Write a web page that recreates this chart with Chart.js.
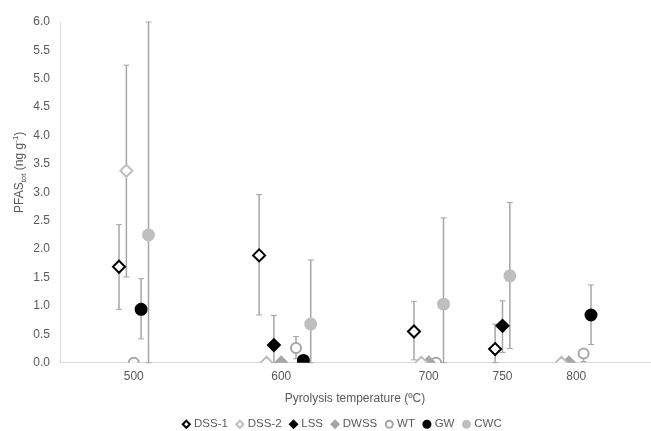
<!DOCTYPE html>
<html>
<head>
<meta charset="utf-8">
<script src="https://cdn.jsdelivr.net/npm/chart.js@4"></script>
<style>
  html, body { margin: 0; padding: 0; background: #fff; }
  #wrap { width: 651px; height: 431px; }
</style>
</head>
<body>
<div id="wrap"><canvas id="chart"></canvas></div>
<script>
const FONT = "'Liberation Sans', Arial, sans-serif";
const TXT = '#595959';

// x tick labels (temperatures, ºC)
const xTicks = [500, 600, 700, 750, 800];
const yTicks = [0, 0.5, 1, 1.5, 2, 2.5, 3, 3.5, 4, 4.5, 5, 5.5, 6];

// each series: x position (slightly offset around its temperature), mean, upper / lower error bound
const dss1X  = [490, 585, 690, 745];
const dss1Y  = [1.69, 1.89, 0.55, 0.24];
const dss1Hi = [2.43, 2.96, 1.08, 0.68];
const dss1Lo = [0.94, 0.84, 0.05, 0.0];

const dss2X  = [495, 590, 695, 790];
const dss2Y  = [3.38, 0, 0, 0];
const dss2Hi = [5.24, null, null, null];
const dss2Lo = [1.51, null, null, null];

const lssX  = [595, 750];
const lssY  = [0.31, 0.65];
const lssHi = [0.83, 1.09];
const lssLo = [0.0, 0.18];

const dwssX = [600, 700, 795];
const dwssY = [0, 0, 0];

const wtX  = [500, 610, 705, 805];
const wtY  = [0, 0.26, 0, 0.16];
const wtHi = [null, 0.46, null, 0.2];
const wtLo = [null, 0.07, null, 0.02];

const gwX  = [505, 615, 810];
const gwY  = [0.94, 0.04, 0.84];
const gwHi = [1.48, null, 1.37];
const gwLo = [0.42, null, 0.32];

const cwcX  = [510, 620, 710, 755];
const cwcY  = [2.25, 0.68, 1.03, 1.53];
const cwcHi = [6.0, 1.81, 2.55, 2.82];
const cwcLo = [0, 0, 0, 0.25];

function pts(xs, ys) {
  return xs.map((x, i) => ({ x, y: ys[i] }));
}

function series(label, xs, ys, hi, lo, style) {
  return Object.assign({
    label,
    data: pts(xs, ys),
    errHi: hi || [],
    errLo: lo || [],
    showLine: false,
    borderWidth: 2,
  }, style);
}

const datasets = [
  series('DSS-1', dss1X, dss1Y, dss1Hi, dss1Lo,
    { pointStyle: 'rectRot', pointRadius: 6, backgroundColor: '#ffffff', borderColor: '#000000' }),
  series('DSS-2', dss2X, dss2Y, dss2Hi, dss2Lo,
    { pointStyle: 'rectRot', pointRadius: 6, backgroundColor: '#ffffff', borderColor: '#bfbfbf' }),
  series('LSS', lssX, lssY, lssHi, lssLo,
    { pointStyle: 'rectRot', pointRadius: 6, backgroundColor: '#000000', borderColor: '#000000' }),
  series('DWSS', dwssX, dwssY, null, null,
    { pointStyle: 'rectRot', pointRadius: 6, backgroundColor: '#a6a6a6', borderColor: '#a6a6a6' }),
  series('WT', wtX, wtY, wtHi, wtLo,
    { pointStyle: 'circle', pointRadius: 5, backgroundColor: '#ffffff', borderColor: '#a6a6a6' }),
  series('GW', gwX, gwY, gwHi, gwLo,
    { pointStyle: 'circle', pointRadius: 5.5, backgroundColor: '#000000', borderColor: '#000000' }),
  series('CWC', cwcX, cwcY, cwcHi, cwcLo,
    { pointStyle: 'circle', pointRadius: 5.5, backgroundColor: '#bfbfbf', borderColor: '#bfbfbf' }),
];

// vertical error bars, drawn under the markers
const errorBars = {
  id: 'errorBars',
  beforeDatasetsDraw(chart) {
    const { ctx, scales: { x, y } } = chart;
    ctx.save();
    ctx.strokeStyle = '#a6a6a6';
    chart.data.datasets.forEach(ds => {
      ds.data.forEach((p, i) => {
        const hi = ds.errHi[i], lo = ds.errLo[i];
        if (hi == null || lo == null) return;
        const px = x.getPixelForValue(p.x);
        const top = y.getPixelForValue(hi);
        const bot = y.getPixelForValue(lo);
        ctx.lineWidth = 1.5;
        ctx.beginPath();
        ctx.moveTo(px, top);
        ctx.lineTo(px, bot);
        ctx.stroke();
        ctx.lineWidth = 1;
        ctx.beginPath();
        ctx.moveTo(px - 3, top); ctx.lineTo(px + 3, top);
        ctx.moveTo(px - 3, bot); ctx.lineTo(px + 3, bot);
        ctx.stroke();
      });
    });
    ctx.restore();
  }
};

// y title with subscript / superscript: PFAS_tot (ng g^-1)
const yTitle = {
  id: 'yTitle',
  afterDraw(chart) {
    const { ctx, chartArea } = chart;
    const big = '12px ' + FONT, small = '8px ' + FONT;
    const parts = [
      { t: 'PFAS', f: big, dy: 0 },
      { t: 'tot', f: small, dy: 3 },
      { t: ' (ng g', f: big, dy: 0 },
      { t: '-1', f: small, dy: -5 },
      { t: ')', f: big, dy: 0 },
    ];
    ctx.save();
    let total = 0;
    parts.forEach(p => { ctx.font = p.f; p.w = ctx.measureText(p.t).width; total += p.w; });
    ctx.translate(23, (chartArea.top + chartArea.bottom) / 2 - 20);
    ctx.rotate(-Math.PI / 2);
    ctx.fillStyle = TXT;
    ctx.textBaseline = 'alphabetic';
    let cx = -total / 2;
    parts.forEach(p => {
      ctx.font = p.f;
      ctx.fillText(p.t, cx, p.dy);
      cx += p.w;
    });
    ctx.restore();
  }
};

// nudge the legend a little to the right, as in the original
const legendNudge = {
  id: 'legendNudge',
  afterLayout(chart) {
    chart.legend.left += 3;
    chart.legend.right += 3;
  }
};

new Chart(document.getElementById('chart'), {
  type: 'scatter',
  data: { datasets },
  plugins: [errorBars, yTitle, legendNudge],
  options: {
    responsive: true,
    maintainAspectRatio: false,
    animation: false,
    layout: { autoPadding: false, padding: { left: 30, right: 1, top: 22, bottom: -9 } },
    plugins: {
      tooltip: { enabled: false },
      legend: {
        position: 'bottom',
        labels: {
          usePointStyle: true,
          boxWidth: 4,
          boxHeight: 5,
          padding: 10,
          color: TXT,
          font: { family: FONT, size: 11.5 },
        }
      }
    },
    scales: {
      x: {
        type: 'linear',
        min: 450,
        max: 850,
        afterBuildTicks: s => { s.ticks = xTicks.map(v => ({ value: v })); },
        afterFit: s => { s.paddingRight = 0; },
        grid: { display: false, drawTicks: false },
        border: { display: true, color: '#d9d9d9', width: 1 },
        ticks: { color: TXT, font: { family: FONT, size: 12 }, padding: 7, autoSkip: false, maxRotation: 0 },
        title: {
          display: true,
          text: 'Pyrolysis temperature (ºC)',
          color: TXT,
          font: { family: FONT, size: 12 },
          padding: { top: 0, bottom: 3 }
        }
      },
      y: {
        min: 0,
        max: 6,
        afterBuildTicks: s => { s.ticks = yTicks.map(v => ({ value: v })); },
        afterFit: s => { s.width = 30; },
        grid: { display: false, drawTicks: false },
        border: { display: true, color: '#d9d9d9', width: 1 },
        ticks: {
          color: TXT,
          font: { family: FONT, size: 12 },
          padding: 10,
          callback: v => Number(v).toFixed(1)
        }
      }
    }
  }
});
</script>
</body>
</html>
